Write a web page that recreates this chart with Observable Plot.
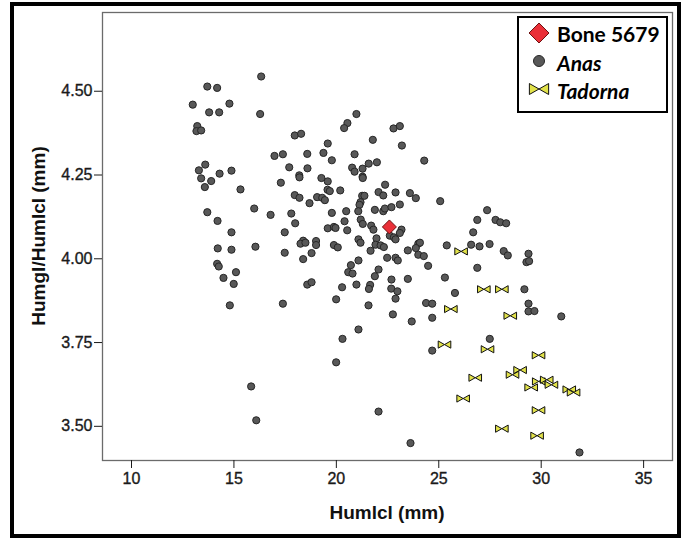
<!DOCTYPE html>
<html><head><meta charset="utf-8">
<script src="https://cdn.jsdelivr.net/npm/d3@7"></script>
<script src="https://cdn.jsdelivr.net/npm/@observablehq/plot@0.6"></script>
<style>body{margin:0;background:#fff} svg{display:block}</style>
</head><body><div id="chart"></div><script>
// ---- data ----
const xTicks = [10, 15, 20, 25, 30, 35];
const yTicks = [3.5, 3.75, 4.0, 4.25, 4.5];
const legendLabels = ["Bone 5679", "Anas", "Tadorna"];
const xTitle = "Humlcl (mm)";
const yTitle = "Humgl/Humlcl (mm)";

const boneX = [22.59];
const boneY = [4.095];

const anasX = [16.33,13.70,14.18,12.99,14.78,13.79,14.28,16.28,13.21,13.17,13.40,17.97,18.28,20.98,20.54,20.38,21.78,19.58,16.98,17.39,18.58,19.37,20.89,19.78,21.58,21.98,13.60,13.29,14.30,14.88,13.40,13.89,13.58,15.32,17.70,18.59,18.19,18.20,17.29,19.27,19.58,20.19,19.57,19.68,20.77,20.89,21.28,21.28,21.29,17.97,18.20,18.69,19.06,19.31,19.44,21.26,21.37,22.06,21.18,21.13,15.99,16.79,17.80,13.70,14.20,14.88,14.21,14.88,16.05,17.48,17.99,19.78,20.48,21.07,20.40,19.58,19.88,20.53,21.19,21.29,21.70,21.81,21.88,18.38,18.25,18.49,19.01,19.01,19.88,20.07,17.48,18.79,21.08,21.18,21.96,21.91,21.67,19.96,
18.38,14.18,14.26,15.10,14.49,14.99,14.80,17.39,18.58,18.79,20.71,21.08,20.58,20.79,20.28,20.98,19.99,21.65,21.59,21.57,21.88,22.06,21.08,20.30,19.99,15.84,16.09,22.06,
22.79,23.10,23.20,24.29,22.38,22.29,22.89,23.59,23.88,25.07,22.29,22.37,22.69,23.10,23.18,23.10,22.61,22.81,22.89,22.16,22.32,23.49,24.00,24.08,23.88,25.39,26.88,27.36,27.77,28.00,28.29,26.68,26.58,26.99,27.48,28.17,29.38,
22.48,22.89,23.00,24.00,24.27,24.48,28.37,29.28,29.41,22.69,23.49,22.68,22.98,22.89,22.76,23.68,24.38,24.68,24.68,25.30,25.79,26.88,29.18,29.38,29.38,29.67,30.98,27.49,24.68,23.62,31.87];
const anasY = [4.544,4.514,4.510,4.460,4.463,4.437,4.437,4.432,4.396,4.381,4.383,4.368,4.373,4.432,4.405,4.390,4.355,4.344,4.307,4.312,4.313,4.316,4.312,4.294,4.284,4.288,4.281,4.264,4.254,4.263,4.240,4.232,4.214,4.207,4.273,4.270,4.249,4.243,4.227,4.241,4.231,4.204,4.206,4.202,4.272,4.260,4.269,4.245,4.241,4.190,4.182,4.166,4.184,4.182,4.175,4.188,4.188,4.199,4.169,4.161,4.150,4.131,4.135,4.139,4.113,4.079,4.031,4.027,4.036,4.079,4.106,4.137,4.142,4.142,4.112,4.091,4.095,4.085,4.117,4.104,4.099,4.087,4.146,4.054,4.045,4.048,4.053,4.041,4.041,4.034,4.018,4.017,4.058,4.048,4.061,4.042,4.024,4.092,
3.999,3.985,3.977,3.960,3.943,3.925,3.861,3.866,3.923,3.930,3.981,3.995,3.960,3.956,3.915,3.923,3.879,3.922,3.910,3.861,3.948,3.968,3.789,3.761,3.691,3.619,3.518,3.544,
4.389,4.396,4.338,4.293,4.221,4.189,4.198,4.196,4.181,4.172,4.142,4.150,4.154,4.162,4.087,4.077,4.069,4.064,4.058,4.040,4.035,4.025,4.045,4.048,4.032,4.040,4.116,4.145,4.116,4.109,4.106,4.079,4.042,4.037,4.044,4.023,4.015,
4.003,4.003,3.995,4.012,4.008,3.979,4.010,3.990,3.993,3.938,3.940,3.911,3.903,3.881,3.834,3.813,3.868,3.866,3.824,3.944,3.898,3.973,3.909,3.866,3.843,3.844,3.828,3.761,3.726,3.450,3.422];

const tadornaX = [26.09,27.20,28.08,25.59,28.49,25.28,27.38,29.87,28.97,28.60,26.78,29.88,30.27,30.50,29.51,31.37,31.58,26.19,29.87,28.08,29.80];
const tadornaY = [4.022,3.909,3.909,3.850,3.830,3.744,3.730,3.712,3.668,3.654,3.645,3.634,3.639,3.624,3.616,3.610,3.601,3.583,3.548,3.493,3.472];

// ---- tables built from the arrays ----
const anas = anasX.map((x, i) => ({x, y: anasY[i]}));
const tadorna = tadornaX.map((x, i) => ({x, y: tadornaY[i]}));
const bone = boneX.map((x, i) => ({x, y: boneY[i]}));

// ---- custom symbols ----
const bowtie = {draw(ctx, size) {
  const r = Math.sqrt(size / Math.PI), w = r * 1.75, h = r;
  ctx.moveTo(-w, -h); ctx.lineTo(0, 0); ctx.lineTo(-w, h); ctx.closePath();
  ctx.moveTo(w, -h); ctx.lineTo(0, 0); ctx.lineTo(w, h); ctx.closePath();
}};
const diamond = {draw(ctx, size) {
  const r = Math.sqrt(size / Math.PI);
  ctx.moveTo(0, -r); ctx.lineTo(r, 0); ctx.lineTo(0, r); ctx.lineTo(-r, 0); ctx.closePath();
}};

const FONT = "'Liberation Sans', Arial, sans-serif";
const chart = Plot.plot({
  width: 689, height: 540,
  marginLeft: 102, marginRight: 17, marginTop: 12, marginBottom: 80,
  x: {domain: [8.584, 36.41]},
  y: {domain: [3.398, 4.735]},
  style: {fontFamily: FONT, fontSize: "16px", color: "#1a1a1a", background: "#fff", overflow: "visible"},
  marks: [
    Plot.frame({stroke: "#6b6b6b", strokeWidth: 1.3}),
    Plot.axisX({ticks: xTicks, tickSize: 8, tickPadding: 4, label: null, fontSize: 16}),
    Plot.axisY({ticks: yTicks, tickFormat: d3.format(".2f"), tickSize: 8, tickPadding: 2, label: null, fontSize: 16}),
    Plot.dot(anas, {x: "x", y: "y", r: 3.6, fill: "#585858", stroke: "#262626", strokeWidth: 1}),
    Plot.dot(tadorna, {x: "x", y: "y", r: 3.6, symbol: bowtie, fill: "#e2e24a", stroke: "#111", strokeWidth: 1}),
    Plot.dot(bone, {x: "x", y: "y", r: 7, symbol: diamond, fill: "#ea3038", stroke: "#6e1010", strokeWidth: 1})
  ]
});
document.getElementById("chart").appendChild(chart);

const svg = d3.select(chart);
// slightly heavier tick labels, like the reference
svg.selectAll("g[aria-label='x-axis tick label'] text, g[aria-label='y-axis tick label'] text")
  .attr("stroke", "#1a1a1a").attr("stroke-width", 0.35);

// axis titles
svg.append("text").text(xTitle)
  .attr("x", 387).attr("y", 512).attr("text-anchor", "middle").attr("dominant-baseline", "central")
  .style("font", `bold 19px ${FONT}`).attr("fill", "#111");
svg.append("text").text(yTitle)
  .attr("transform", "translate(38,236) rotate(-90)").attr("text-anchor", "middle").attr("dominant-baseline", "central")
  .style("font", `bold 19px ${FONT}`).attr("fill", "#111");

// legend
const lg = svg.append("g").attr("text-anchor", "start");
lg.append("rect").attr("x", 518).attr("y", 17).attr("width", 149).attr("height", 95)
  .attr("fill", "#fff").attr("stroke", "#000").attr("stroke-width", 2);
const symPath = (sym, r) => { const p = d3.path(); sym.draw(p, Math.PI * r * r); return p.toString(); };
const rows = [
  {label: legendLabels[0], y: 33, italic: false},
  {label: legendLabels[1], y: 62, italic: true},
  {label: legendLabels[2], y: 90, italic: true}
];
lg.append("path").attr("transform", "translate(539,33)").attr("d", symPath(diamond, 10))
  .attr("fill", "#ea3038").attr("stroke", "#6e1010");
lg.append("circle").attr("cx", 539).attr("cy", 61).attr("r", 5.5)
  .attr("fill", "#585858").attr("stroke", "#262626");
lg.append("path").attr("transform", "translate(539,89)").attr("d", symPath(bowtie, 5.5))
  .attr("fill", "#e2e24a").attr("stroke", "#111");
rows.forEach(r => {
  lg.append("text").text(r.label).attr("x", 557).attr("y", r.y).attr("text-anchor", "start")
    .attr("dominant-baseline", "central")
    .style("font", `${r.italic ? "italic " : ""}bold 21px Lato, 'Open Sans', sans-serif`).attr("fill", "#000");
});

// outer border
svg.append("rect").attr("x", 12).attr("y", 4).attr("width", 667).attr("height", 532)
  .attr("fill", "none").attr("stroke", "#000").attr("stroke-width", 4);
</script></body></html>
